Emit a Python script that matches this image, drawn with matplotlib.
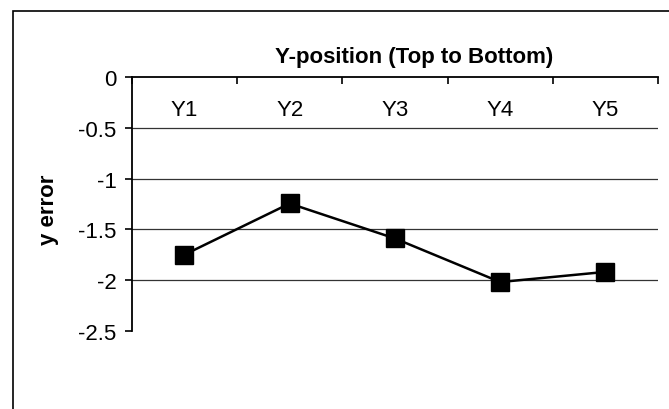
import matplotlib
matplotlib.use('Agg')
import matplotlib.pyplot as plt
from matplotlib.patches import Rectangle

# y error for each vertical position, top to bottom
categories = ['Y1', 'Y2', 'Y3', 'Y4', 'Y5']
y_error = [-1.75, -1.245, -1.59, -2.02, -1.92]
y_ticks = [0, -0.5, -1, -1.5, -2, -2.5]
y_tick_labels = ['0', '-0.5', '-1', '-1.5', '-2', '-2.5']

plt.rcParams['font.family'] = ['Liberation Sans', 'DejaVu Sans']
fs = 16

fig = plt.figure(figsize=[6.69, 4.10], dpi=100)
ax = fig.add_axes([0.197, 0.191, 0.7866, 0.618])

# chart frame, open on the right and bottom
fig.patches.append(Rectangle((13 / 669, -0.2), 1.2, 1.2 - 11.7 / 410,
                             transform=fig.transFigure, fill=False,
                             edgecolor='black', linewidth=1.2))

x = list(range(len(categories)))

# horizontal gridlines
for v in y_ticks[1:-1]:
    ax.axhline(v, color='#333333', linewidth=0.9, zorder=1)

ax.plot(x, y_error, color='black', linewidth=1.8, marker='s',
        markersize=13, markerfacecolor='black', markeredgecolor='black', zorder=3)

ax.set_xlim(-0.5, len(categories) - 0.5)
ax.set_ylim(-2.5, 0)

# category axis sits on top at y = 0, labels hang below it
for side in ['bottom', 'right']:
    ax.spines[side].set_visible(False)
ax.spines['top'].set_linewidth(1.3)
ax.spines['left'].set_linewidth(1.3)

ax.set_xticks(x)
ax.set_xticklabels(categories, fontsize=fs)
ax.set_xticks([i - 0.5 for i in range(len(categories) + 1)], minor=True)
ax.tick_params(axis='x', which='major', top=True, bottom=False, labeltop=True,
               labelbottom=False, length=0, pad=-31)
ax.tick_params(axis='x', which='minor', top=True, bottom=False, direction='in',
               length=5, width=1.2)

ax.set_yticks(y_ticks)
ax.set_yticklabels(y_tick_labels, fontsize=fs)
ax.tick_params(axis='y', direction='out', length=5, width=1.2, pad=6)

fig.text(414 / 669, 1 - 58 / 410, 'Y-position (Top to Bottom)', fontsize=fs,
         fontweight='bold', ha='center', va='center')
fig.text(49 / 669, 1 - 210 / 410, 'y error', fontsize=fs, fontweight='bold',
         rotation=90, ha='center', va='center')

fig.savefig('out.png', dpi=100)
